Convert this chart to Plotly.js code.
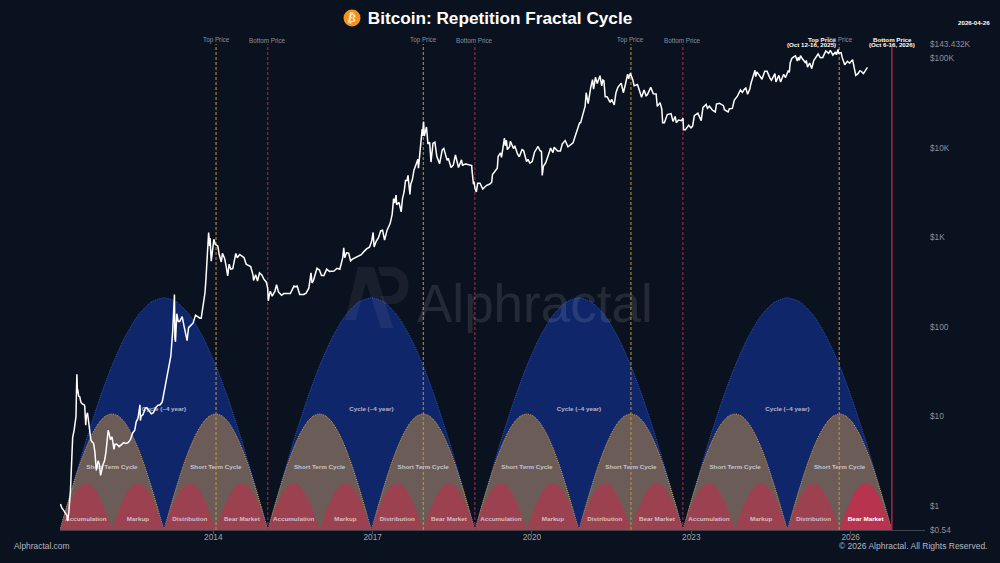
<!DOCTYPE html>
<html>
<head>
<meta charset="utf-8">
<script src="https://cdn.plot.ly/plotly-3.0.1.min.js"></script>
<style>html,body{margin:0;padding:0;background:#0b121f;}</style>
</head>
<body>
<div id="chart" style="width:1000px;height:563px;"></div>
<script>
// BTC price, [date, price] in two lists
var priceDates = [
"2011-02-15","2011-02-25","2011-03-08","2011-03-20","2011-04-01","2011-04-06","2011-04-14","2011-04-25","2011-05-01","2011-05-10","2011-05-20","2011-05-28","2011-06-02","2011-06-05","2011-06-08","2011-06-12","2011-06-14","2011-06-20","2011-06-28","2011-07-05","2011-07-15","2011-07-28","2011-08-01","2011-08-08","2011-08-12","2011-08-20","2011-08-30","2011-09-06","2011-09-12","2011-09-20","2011-10-01","2011-10-10","2011-10-20","2011-11-01","2011-11-10","2011-11-18","2011-11-25","2011-12-05","2011-12-15","2011-12-25",
"2012-01-05","2012-01-09","2012-01-15","2012-01-25","2012-02-05","2012-02-18","2012-02-25","2012-03-10","2012-03-25","2012-04-10","2012-04-25","2012-05-10","2012-05-25","2012-06-10","2012-06-25","2012-07-10","2012-07-20","2012-08-01","2012-08-15","2012-08-18","2012-08-22","2012-09-05","2012-09-20","2012-10-01","2012-10-15","2012-11-01","2012-11-15","2012-12-01","2012-12-15",
"2013-01-01","2013-01-15","2013-02-01","2013-02-15","2013-03-01","2013-03-15","2013-03-28","2013-04-03","2013-04-09","2013-04-12","2013-04-16","2013-04-25","2013-05-05","2013-05-15","2013-06-01","2013-06-15","2013-07-05","2013-07-15","2013-08-01","2013-08-15","2013-09-01","2013-09-15","2013-10-01","2013-10-10","2013-10-25","2013-11-05","2013-11-12","2013-11-18","2013-11-30","2013-12-07","2013-12-10","2013-12-18","2013-12-25",
"2014-01-05","2014-01-15","2014-02-01","2014-02-10","2014-02-25","2014-03-05","2014-03-20","2014-04-01","2014-04-10","2014-04-20","2014-05-01","2014-05-15","2014-06-01","2014-06-05","2014-06-15","2014-07-01","2014-07-15","2014-08-01","2014-08-15","2014-09-01","2014-09-15","2014-10-01","2014-10-05","2014-10-20","2014-11-01","2014-11-15","2014-12-01","2014-12-15",
"2015-01-01","2015-01-10","2015-01-14","2015-01-20","2015-01-28","2015-02-10","2015-03-01","2015-03-12","2015-03-25","2015-04-15","2015-05-01","2015-05-20","2015-06-15","2015-07-10","2015-07-20","2015-08-01","2015-08-18","2015-09-01","2015-09-15","2015-10-01","2015-10-20","2015-11-04","2015-11-11","2015-11-20","2015-12-01","2015-12-15",
"2016-01-01","2016-01-15","2016-02-01","2016-02-20","2016-03-10","2016-04-10","2016-05-01","2016-05-20","2016-06-10","2016-06-16","2016-06-23","2016-07-05","2016-07-20","2016-08-02","2016-08-15","2016-09-15","2016-10-15","2016-11-05","2016-11-20","2016-12-10","2016-12-25",
"2017-01-04","2017-01-11","2017-01-25","2017-02-10","2017-02-25","2017-03-10","2017-03-24","2017-04-10","2017-05-01","2017-05-15","2017-05-25","2017-06-01","2017-06-11","2017-06-15","2017-07-01","2017-07-16","2017-07-25","2017-08-05","2017-08-15","2017-08-25","2017-09-01","2017-09-14","2017-09-20","2017-10-01","2017-10-12","2017-10-20","2017-11-01","2017-11-08","2017-11-12","2017-11-20","2017-11-28","2017-12-07","2017-12-10","2017-12-17","2017-12-22","2017-12-28",
"2018-01-06","2018-01-16","2018-01-28","2018-02-06","2018-02-20","2018-03-05","2018-03-18","2018-04-06","2018-04-24","2018-05-05","2018-05-28","2018-06-05","2018-06-24","2018-07-10","2018-07-24","2018-08-14","2018-09-04","2018-09-11","2018-09-20","2018-10-05","2018-10-15","2018-11-01","2018-11-13","2018-11-15","2018-11-25","2018-11-28","2018-12-06","2018-12-15","2018-12-24",
"2019-01-09","2019-01-28","2019-02-08","2019-02-24","2019-03-15","2019-03-30","2019-04-05","2019-04-23","2019-05-08","2019-05-14","2019-05-30","2019-06-06","2019-06-26","2019-07-02","2019-07-10","2019-07-16","2019-08-01","2019-08-06","2019-08-28","2019-09-05","2019-09-24","2019-10-06","2019-10-25","2019-11-05","2019-11-25","2019-12-05","2019-12-18",
"2020-01-03","2020-01-19","2020-02-12","2020-02-25","2020-03-07","2020-03-12","2020-03-20","2020-04-05","2020-04-29","2020-05-08","2020-05-25","2020-06-02","2020-06-25","2020-07-15","2020-07-28","2020-08-17","2020-09-05","2020-09-25","2020-10-10","2020-10-21","2020-11-05","2020-11-24","2020-12-01","2020-12-17",
"2021-01-01","2021-01-08","2021-01-22","2021-02-08","2021-02-21","2021-02-28","2021-03-13","2021-03-25","2021-04-13","2021-04-25","2021-05-03","2021-05-10","2021-05-19","2021-06-01","2021-06-22","2021-07-03","2021-07-20","2021-08-01","2021-08-14","2021-09-06","2021-09-21","2021-10-05","2021-10-20","2021-10-27","2021-11-08","2021-11-25","2021-12-04","2021-12-27",
"2022-01-10","2022-01-24","2022-02-10","2022-02-24","2022-03-05","2022-03-28","2022-04-15","2022-05-04","2022-05-12","2022-05-31","2022-06-12","2022-06-18","2022-06-30","2022-07-20","2022-08-15","2022-08-28","2022-09-12","2022-09-20","2022-10-05","2022-10-25","2022-11-05","2022-11-09","2022-11-21","2022-12-14","2022-12-30",
"2023-01-10","2023-01-22","2023-02-15","2023-03-10","2023-03-22","2023-04-13","2023-04-22","2023-05-06","2023-05-25","2023-06-15","2023-06-23","2023-07-13","2023-08-10","2023-08-17","2023-09-11","2023-09-20","2023-10-10","2023-10-24","2023-11-15","2023-12-05","2023-12-18",
"2024-01-02","2024-01-11","2024-01-23","2024-02-08","2024-02-15","2024-02-28","2024-03-14","2024-03-19","2024-03-27","2024-04-13","2024-05-01","2024-05-20","2024-06-05","2024-06-24","2024-07-05","2024-07-29","2024-08-05","2024-08-25","2024-09-06","2024-09-27","2024-10-10","2024-10-29","2024-11-05","2024-11-11","2024-11-22","2024-12-05","2024-12-17","2024-12-30",
"2025-01-06","2025-01-13","2025-01-21","2025-02-03","2025-02-25","2025-03-02","2025-03-10","2025-03-25","2025-04-08","2025-04-22","2025-05-14","2025-05-22","2025-06-05","2025-06-22","2025-07-14","2025-08-02","2025-08-14","2025-09-01","2025-09-18","2025-09-25","2025-10-06","2025-10-10","2025-10-27","2025-11-04","2025-11-21","2025-12-10","2025-12-25",
"2026-01-14","2026-02-05","2026-02-20","2026-03-05","2026-03-15","2026-03-30","2026-04-14","2026-04-26"
];
var priceValues = [
1.05,0.95,0.9,0.82,0.78,0.68,0.86,1.5,3,5.8,7,8.5,10,18,29.5,18,20,17,16.5,14.5,13.8,13.5,13,8,10,11,8.5,6.5,5.5,5.2,5,4,2.5,3.2,2.9,2.2,2.5,2.9,3.2,4,
6,7,6.5,5.5,5.9,4.3,4.9,4.9,4.6,4.9,5.1,5,5.1,5.5,6.5,7,8.7,9.5,13.5,9,10,10.5,12.3,12.5,11.7,10.7,11,12.5,13.3,
13.5,14.5,20,27,34,47,90,135,230,75,68,140,115,115,130,100,70,98,105,110,135,130,125,125,190,240,350,600,1130,800,980,540,680,
950,830,800,650,530,660,580,460,370,500,440,445,640,660,590,640,620,590,500,480,470,380,330,380,325,400,380,340,
315,270,195,220,250,220,250,295,245,225,235,235,235,285,280,285,230,230,230,238,270,400,310,325,370,450,
430,375,375,440,415,420,450,440,600,760,590,670,665,545,570,610,640,700,740,775,900,
1130,780,900,990,1180,1200,930,1200,1420,1800,2700,2400,2950,2300,2450,1920,2700,3200,4300,4300,4900,3000,3900,4400,5600,6000,6700,7400,5900,8200,9800,16000,13500,19500,13500,14500,
17000,11000,11500,6900,11200,11500,8000,6600,9400,9800,7200,7600,6000,6400,8300,6000,7300,6300,6500,6550,6500,6350,6300,5600,3900,4200,3500,3200,4000,
4000,3450,3600,3800,3900,4100,5000,5500,5900,8000,8700,7800,12800,10500,12100,9500,10300,11800,9700,10500,8500,7900,9500,9300,7000,7400,6700,
7000,8900,10300,9300,9000,4900,6200,6800,8800,9900,8800,10100,9200,9200,11000,12000,10200,10700,11300,12900,15500,19000,19000,23000,
29000,41000,31000,46500,57500,45000,61000,52000,63500,49000,57000,56000,37000,37000,32000,34500,30000,41000,47000,52500,41000,51000,66000,58500,67500,57000,49000,50700,
41800,36500,44000,38000,39000,47000,40000,39700,28900,31800,27000,19000,19000,23400,24000,19600,22300,19000,20300,20000,21300,15800,15800,17800,16600,
17400,22700,24300,20000,28000,30400,27500,29000,26300,25000,30700,31300,29400,26500,25000,27200,27400,33900,37800,44000,41300,
45000,46300,39500,45300,52000,62500,73000,62000,70000,64000,58000,71000,71000,60000,56500,67000,54000,64000,53900,65800,60500,72700,69000,88000,99000,103000,106000,92500,
102000,94500,106000,98000,88000,94000,79000,88000,76500,93500,104000,111000,101500,101000,120000,113000,122000,108000,117000,109000,125000,113000,115000,101000,84000,92000,87500,
96000,64000,67000,72000,71000,67000,74000,78500
];

// cycle edges (where the domes touch the floor), tops sit 3/4 along each cycle
var cycleEdges = ["2011-02-12","2015-01-11","2018-12-05","2022-11-04","2026-10-11"];
var topDates = ["2014-01-20","2017-12-15","2021-11-12","2025-10-14"];
var bottomDates = ["2015-01-11","2018-12-05","2022-11-04"];
var lastBottomDate = "2026-10-11";

// dome outlines in dollars, read at 17 even steps across each dome
var cycleDome = [0.54,1.73,5.31,14.9,36.7,76.9,134,188,211,188,134,76.9,36.7,14.9,5.31,1.73,0.54];
var shortDome = [0.54,0.966,1.69,2.84,4.45,6.44,8.5,10.08,10.67,10.08,8.5,6.44,4.45,2.84,1.69,0.966,0.54];
var phaseDome = [0.54,0.682,0.855,1.05,1.26,1.46,1.64,1.75,1.79,1.75,1.64,1.46,1.26,1.05,0.855,0.682,0.54];

var phaseNames = ["Accumulation","Markup","Distribution","Bear Market"];
var cycleLabel = "Cycle (~4 year)";
var shortLabel = "Short Term Cycle";
var cycleLabelY = 12.1, shortLabelY = 2.73, phaseLabelY = 0.716;

var yTickVals = [0.54,1,10,100,1000,10000,100000,143432];
var yTickText = ["$0.54","$1","$10","$100","$1K","$10K","$100K","$143.432K"];
var xTickVals = ["2014-01-01","2017-01-01","2020-01-01","2023-01-01","2026-01-01"];
var xTickText = ["2014","2017","2020","2023","2026"];

var yMin = 0.54, yMax = 143432;
var bg = "#0b121f";
var sans = "'Liberation Sans', Arial, sans-serif";

function ms(d){ return new Date(d + "T00:00:00Z").getTime(); }

var traces = [];

function addDome(startMs, endMs, vals, fill, edge){
    var xs = [];
    for (var i = 0; i < vals.length; i++){
        xs.push(startMs + (endMs - startMs) * i / (vals.length - 1));
    }
    traces.push({
        x: xs, y: vals, type: "scatter", mode: "lines", fill: "toself", fillcolor: fill,
        line: {color: edge, width: 1, dash: "1px,1px", shape: "spline", smoothing: 0.6},
        hoverinfo: "skip"
    });
}

var labelX = [], labelY = [], labelText = [], labelColor = [];
function addLabel(x, y, txt, col){
    labelX.push(x); labelY.push(y); labelText.push("<b>" + txt + "</b>"); labelColor.push(col);
}

var softText = "rgba(225,225,232,0.78)";

for (var c = 0; c < cycleEdges.length - 1; c++){
    var a = ms(cycleEdges[c]), b = ms(cycleEdges[c + 1]);
    var half = (b - a) / 2, quarter = (b - a) / 4;
    addDome(a, b, cycleDome, "#10266a", "#2b52b5");
    addLabel(a + half, cycleLabelY, cycleLabel, softText);
    for (var s = 0; s < 2; s++){
        addDome(a + s * half, a + (s + 1) * half, shortDome, "#6b5c58", "#d39a4e");
        addLabel(a + s * half + quarter, shortLabelY, shortLabel, softText);
    }
    for (var p = 0; p < 4; p++){
        var lastOne = (c == cycleEdges.length - 2 && p == 3);
        addDome(a + p * quarter, a + (p + 1) * quarter, phaseDome,
            lastOne ? "#b8334e" : "#9c4150", lastOne ? "#b8334e" : "#a8404f");
        addLabel(a + p * quarter + quarter / 2, phaseLabelY, phaseNames[p], lastOne ? "#ffffff" : softText);
    }
}

// vertical cycle markers
function addVLine(d, col, dash, w){
    traces.push({
        x: [d, d], y: [yMin, yMax], type: "scatter", mode: "lines",
        line: {color: col, width: w, dash: dash}, hoverinfo: "skip"
    });
}
topDates.forEach(function(d){ addVLine(d, "#c8953c", "3px,2px", 1); });
bottomDates.forEach(function(d){ addVLine(d, "#b02a50", "3px,2px", 1); });
addVLine(lastBottomDate, "#a8243f", "solid", 1.5);

// dome labels as a text trace so the price line runs over them
traces.push({
    x: labelX, y: labelY, text: labelText, type: "scatter", mode: "text",
    textposition: "middle center", cliponaxis: false,
    textfont: {family: sans, size: 6.25, color: labelColor}, hoverinfo: "skip"
});

traces.push({
    x: priceDates, y: priceValues, type: "scatter", mode: "lines",
    line: {color: "#ffffff", width: 1.5}, name: "BTC"
});

// pixel helpers for page furniture
var plotL = 60, plotR = 925, plotT = 44, plotB = 530;
function px(x){ return (x - plotL) / (plotR - plotL); }
function py(y){ return (plotB - y) / (plotB - plotT); }
function P(x, y){ return px(x).toFixed(4) + "," + py(y).toFixed(4); }

function note(txt, x, y, size, col, anchor, extra){
    var o = {
        text: txt, xref: "paper", yref: "paper", x: px(x), y: py(y), showarrow: false,
        xanchor: anchor || "center", yanchor: "middle",
        font: {family: sans, size: size, color: col}
    };
    for (var k in extra) o[k] = extra[k];
    return o;
}

var annotations = [
    note("<b>₿</b>", 352, 18, 12, "#ffffff", "center", {font: {family: "'DejaVu Sans'", size: 12, color: "#ffe9cc"}, textangle: 12}),
    note("<b>2026-04-26</b>", 992, 22, 6.2, "#ffffff", "right"),
    note("Alphractal.com", 12, 546, 8.4, "#b4b8bf", "left"),
    note("© 2026 Alphractal. All Rights Reserved.", 988.5, 546, 8.5, "#b4b8bf", "right"),
    note("Alphractal", 415, 303, 53, "rgba(255,255,255,0.10)", "left"),
    note("<b>Top Price</b>", 838, 39.5, 6.2, "#ffffff", "right"),
    note("<b>(Oct 12-16, 2025)</b>", 838, 44.5, 6.2, "#ffffff", "right"),
    note("<b>Bottom Price</b>", 892, 39.5, 6.2, "#ffffff", "center"),
    note("<b>(Oct 6-16, 2026)</b>", 892, 44.5, 6.2, "#ffffff", "center")
];

function topNote(d, txt){
    return {
        text: txt, xref: "x", yref: "paper", x: d, y: py(40), showarrow: false,
        xanchor: "center", yanchor: "middle",
        font: {family: sans, size: 6.3, color: "#8b9099"}
    };
}
topDates.forEach(function(d){ annotations.push(topNote(d, "Top Price")); });
bottomDates.forEach(function(d){ annotations.push(topNote(d, "Bottom Price")); });

var shapes = [
    {type: "circle", xref: "paper", yref: "paper", x0: px(343.5), x1: px(360.5), y0: py(26.5), y1: py(9.5),
     fillcolor: "#f7931a", line: {width: 0}},
    // watermark logo, A then P
    {type: "path", xref: "paper", yref: "paper", layer: "above", fillcolor: "rgba(255,255,255,0.06)", line: {width: 0},
     path: "M " + P(345, 320) + " L " + P(358, 267) + " L " + P(374, 267) + " L " + P(393, 328) + " L " + P(381, 328) + " L " + P(366, 282) + " L " + P(356, 320) + " Z"},
    {type: "path", xref: "paper", yref: "paper", layer: "above", fillcolor: "rgba(255,255,255,0.06)", line: {width: 0},
     path: "M " + P(378, 267) + " L " + P(392, 267) + " C " + P(414, 268) + " " + P(414, 304) + " " + P(392, 304) + " L " + P(384, 304) + " L " + P(381, 296) + " L " + P(390, 296) + " C " + P(402, 294) + " " + P(402, 277) + " " + P(390, 276) + " L " + P(381, 276) + " Z"}
];

var layout = {
    width: 1000, height: 563,
    paper_bgcolor: bg, plot_bgcolor: bg,
    showlegend: false,
    margin: {l: plotL, r: 1000 - plotR, t: plotT, b: 563 - plotB, pad: 0},
    title: {
        text: "<b>Bitcoin: Repetition Fractal Cycle</b>", x: 0.5, xanchor: "center",
        y: 1 - 18 / 563, yanchor: "middle", font: {family: sans, size: 17.2, color: "#ffffff"}
    },
    xaxis: {
        type: "date", range: ["2011-02-12", "2027-05-27"],
        tickmode: "array", tickvals: xTickVals, ticktext: xTickText,
        showgrid: false, zeroline: false, showline: true, linecolor: "#3d424c", linewidth: 1,
        ticks: "outside", ticklen: 3, tickcolor: "#4a4f59", tickwidth: 1, ticklabelstandoff: -4,
        tickfont: {family: sans, size: 8.3, color: "#a0a4ab"}
    },
    yaxis: {
        type: "log", range: [Math.log10(yMin), Math.log10(yMax)], side: "right",
        tickmode: "array", tickvals: yTickVals, ticktext: yTickText,
        showgrid: false, zeroline: false, showline: false, ticks: "", ticklabelstandoff: 4,
        tickfont: {family: sans, size: 8.3, color: "#8b9099"}
    },
    annotations: annotations,
    shapes: shapes
};

Plotly.newPlot("chart", traces, layout, {displayModeBar: false});
</script>
</body>
</html>
